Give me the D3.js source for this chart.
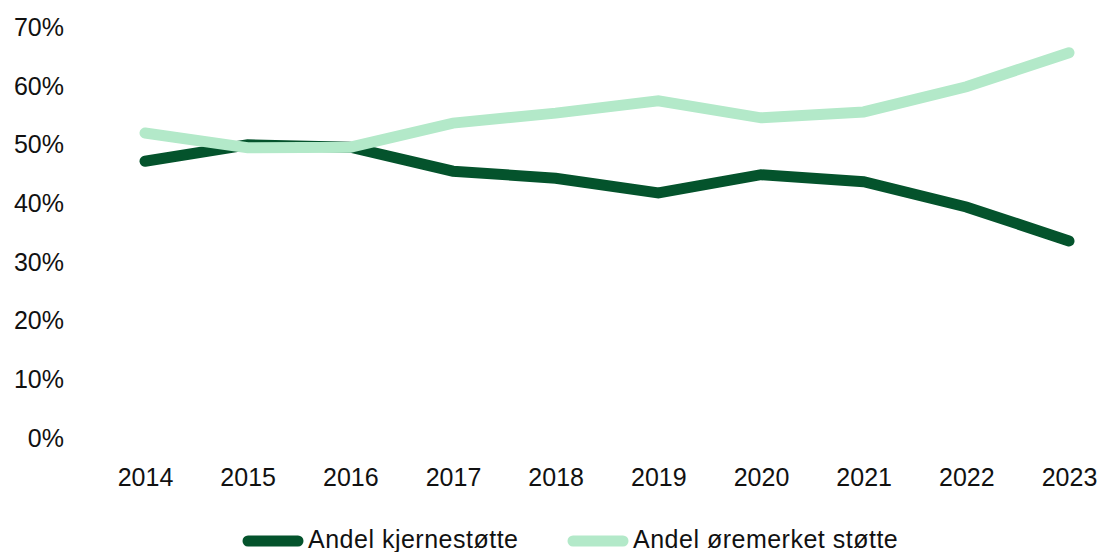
<!DOCTYPE html>
<html>
<head>
<meta charset="utf-8">
<script src="https://cdn.jsdelivr.net/npm/d3@7"></script>
<style>
  body { margin: 0; background: #fff; }
  svg text { font-family: "Liberation Sans", Arial, sans-serif; fill: #111; }
</style>
</head>
<body>
<div id="chart"></div>
<script>
var years = ["2014", "2015", "2016", "2017", "2018", "2019", "2020", "2021", "2022", "2023"];
var kjerne = [47.2, 50.0, 49.6, 45.5, 44.3, 41.8, 44.9, 43.7, 39.4, 33.6];
var oremerket = [52.0, 49.5, 49.6, 53.7, 55.4, 57.5, 54.6, 55.6, 59.9, 65.7];
var yTicks = [0, 10, 20, 30, 40, 50, 60, 70];

var seriesNames = ["Andel kjernestøtte", "Andel øremerket støtte"];
var colors = ["#04532c", "#b3e9c9"];

var width = 1104, height = 552;

var svg = d3.select("#chart").append("svg")
    .attr("width", width)
    .attr("height", height);

var x = d3.scalePoint()
    .domain(years)
    .range([145, 1069]);

var y = d3.scaleLinear()
    .domain([0, 70])
    .range([438, 27.5]);

// y labels
svg.append("g")
    .attr("transform", "translate(64,0)")
    .call(d3.axisLeft(y).tickValues(yTicks).tickSize(0).tickPadding(0).tickFormat(function(d) { return d + "%"; }))
    .call(function(g) { g.select(".domain").remove(); })
    .selectAll("text")
    .style("font-size", "25px")
    .attr("fill", "#111");

// x labels
svg.append("g")
    .attr("transform", "translate(0,468)")
    .call(d3.axisBottom(x).tickSize(0).tickPadding(0))
    .call(function(g) { g.select(".domain").remove(); })
    .selectAll("text")
    .style("font-size", "25px")
    .attr("fill", "#111");

var line = d3.line()
    .x(function(d, i) { return x(years[i]); })
    .y(function(d) { return y(d); });

[kjerne, oremerket].forEach(function(vals, i) {
    svg.append("path")
        .datum(vals)
        .attr("d", line)
        .attr("fill", "none")
        .attr("stroke", colors[i])
        .attr("stroke-width", 11)
        .attr("stroke-linecap", "round")
        .attr("stroke-linejoin", "miter");
});

// legend
var legendX = [248, 573];
seriesNames.forEach(function(name, i) {
    var g = svg.append("g").attr("transform", "translate(" + legendX[i] + ",541)");
    g.append("line")
        .attr("x1", 0).attr("x2", 50)
        .attr("stroke", colors[i])
        .attr("stroke-width", 11)
        .attr("stroke-linecap", "round");
    g.append("text")
        .attr("x", 60)
        .attr("y", 7)
        .style("font-size", "25px")
        .style("letter-spacing", "0.5px")
        .text(name);
});
</script>
</body>
</html>
